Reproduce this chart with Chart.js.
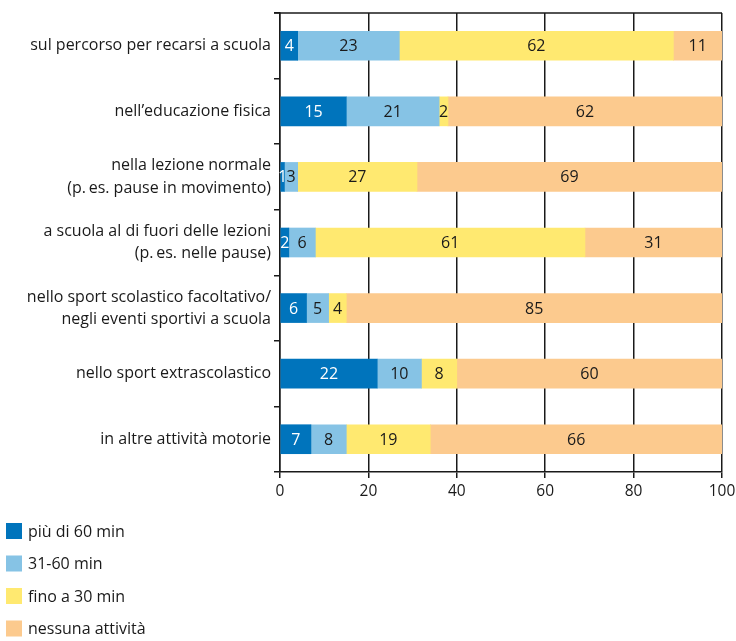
<!DOCTYPE html>
<html><head><meta charset="utf-8">
<script src="https://cdn.jsdelivr.net/npm/chart.js@4/dist/chart.umd.min.js"></script>
<style>html,body{margin:0;padding:0;background:#fff}#wrap{width:736px;height:641px;position:relative}</style>
</head><body><div id="wrap"><canvas id="c" width="736" height="641"></canvas></div>
<script>
const categories = [
  "sul percorso per recarsi a scuola",
  "nell\u2019educazione fisica",
  ["nella lezione normale", "(p.\u2009es. pause in movimento)"],
  ["a scuola al di fuori delle lezioni", "(p.\u2009es. nelle pause)"],
  ["nello sport scolastico facoltativo/", "negli eventi sportivi a scuola"],
  "nello sport extrascolastico",
  "in altre attivit\u00e0 motorie"
];
const seriesNames = ["pi\u00f9 di 60 min", "31-60 min", "fino a 30 min", "nessuna attivit\u00e0"];
const over60   = [4, 15, 1, 2, 6, 22, 7];
const min31_60 = [23, 21, 3, 6, 5, 10, 8];
const upTo30   = [62, 2, 27, 61, 4, 8, 19];
const noneAct  = [11, 62, 69, 31, 85, 60, 66];
const xTicks = [0, 20, 40, 60, 80, 100];

const colors = ["#0074bc", "#86c3e5", "#ffe970", "#fcca8e"];
const labelColors = ["#ffffff", "#1a1a1a", "#1a1a1a", "#1a1a1a"];
const FONT = "'Open Sans', 'Noto Sans', sans-serif";
const TXT = "#1a1a1a";

const valueLabels = {
  id: "valueLabels",
  afterDatasetsDraw(chart) {
    const ctx = chart.ctx;
    ctx.save();
    ctx.font = "16px " + FONT;
    ctx.textAlign = "center";
    ctx.textBaseline = "middle";
    chart.data.datasets.forEach((ds, i) => {
      const meta = chart.getDatasetMeta(i);
      meta.data.forEach((bar, j) => {
        const v = ds.data[j];
        const p = bar.getProps(["x", "y", "base"], true);
        const cx = (p.x + p.base) / 2;
        ctx.fillStyle = labelColors[i];
        ctx.fillText(String(v), cx, p.y + 1);
      });
    });
    ctx.restore();
  }
};

const frame = {
  id: "frame",
  afterDraw(chart) {
    const ctx = chart.ctx, a = chart.chartArea;
    ctx.save();
    ctx.strokeStyle = "#1a1a1a";
    ctx.lineWidth = 1.5;
    ctx.beginPath();
    ctx.moveTo(a.left - 6, a.top);
    ctx.lineTo(a.right, a.top);
    ctx.stroke();
    // legend
    ctx.font = "16px " + FONT;
    ctx.textBaseline = "middle";
    ctx.textAlign = "left";
    chart.data.datasets.forEach((ds, i) => {
      const y = 531 + i * 32.5;
      ctx.fillStyle = ds.backgroundColor;
      ctx.fillRect(6, y - 8, 16, 16);
      ctx.fillStyle = TXT;
      ctx.fillText(ds.label, 28, y + 1);
    });
    ctx.restore();
  }
};

const allSeries = [over60, min31_60, upTo30, noneAct];
new Chart(document.getElementById("c"), {
  type: "bar",
  data: {
    labels: categories,
    datasets: allSeries.map((d, i) => ({
      label: seriesNames[i],
      data: d,
      backgroundColor: colors[i],
      borderWidth: 0,
      barThickness: 29
    }))
  },
  options: {
    indexAxis: "y",
    responsive: false,
    animation: false,
    layout: { padding: { left: 0, right: 14, top: 13, bottom: 139 } },
    plugins: { legend: { display: false }, tooltip: { enabled: false } },
    scales: {
      x: {
        stacked: true,
        min: 0, max: 100,
        afterBuildTicks(s) { s.ticks = xTicks.map(v => ({ value: v })); },
        afterFit(s) { s.height = 30; s.paddingLeft = 0; s.paddingRight = 0; },
        grid: { color: "#1a1a1a", lineWidth: 1.5, tickLength: 6, drawTicks: true },
        border: { color: "#1a1a1a", width: 1.5 },
        ticks: { color: TXT, font: { family: FONT, size: 15.5 }, padding: 4 }
      },
      y: {
        stacked: true,
        afterFit(s) { s.width = 280; s.paddingTop = 0; s.paddingBottom = 0; },
        grid: { drawOnChartArea: false, color: "#1a1a1a", lineWidth: 1.5, tickLength: 6, offset: true },
        border: { color: "#1a1a1a", width: 1.5 },
        ticks: { color: TXT, font: { family: FONT, size: 16, lineHeight: 1.38 }, padding: 3 }
      }
    }
  },
  plugins: [valueLabels, frame]
});
</script></body></html>
